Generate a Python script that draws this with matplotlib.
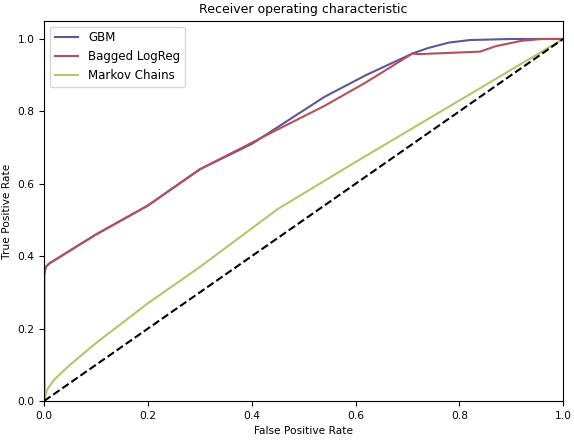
import matplotlib
matplotlib.use("Agg")
import matplotlib.pyplot as plt

# ROC curves
gbm_fpr = [0.0, 0.0, 0.003, 0.01, 0.1, 0.2, 0.3, 0.4, 0.54, 0.62, 0.71, 0.74, 0.78, 0.82, 0.9, 1.0]
gbm_tpr = [0.0, 0.35, 0.37, 0.38, 0.46, 0.54, 0.64, 0.71, 0.84, 0.90, 0.96, 0.975, 0.99, 0.997, 1.0, 1.0]

lr_fpr = [0.0, 0.0, 0.003, 0.01, 0.1, 0.2, 0.3, 0.45, 0.54, 0.62, 0.71, 0.72, 0.84, 0.87, 0.92, 0.96, 1.0]
lr_tpr = [0.0, 0.35, 0.37, 0.38, 0.46, 0.54, 0.64, 0.75, 0.815, 0.88, 0.96, 0.958, 0.965, 0.98, 0.995, 1.0, 1.0]

mc_fpr = [0.0, 0.005, 0.02, 0.05, 0.1, 0.2, 0.3, 0.45, 0.6, 0.8, 1.0]
mc_tpr = [0.0, 0.03, 0.06, 0.10, 0.16, 0.27, 0.37, 0.53, 0.66, 0.83, 1.0]

plt.rcParams['font.size'] = 7.7

fig = plt.figure(figsize=(5.74, 4.44), dpi=100)
ax = fig.add_axes([0.077, 0.097, 0.904, 0.856])

ax.plot(gbm_fpr, gbm_tpr, color='#5e5696', lw=1.5, label='GBM')
ax.plot(lr_fpr, lr_tpr, color='#b4505c', lw=1.5, label='Bagged LogReg')
ax.plot(mc_fpr, mc_tpr, color='#b8c36c', lw=1.5, label='Markov Chains')
ax.plot([0, 1], [0, 1], 'k--', lw=1.5)

ax.set_xlim(0, 1)
ax.set_ylim(0, 1.05)
ax.set_xlabel('False Positive Rate')
ax.set_ylabel('True Positive Rate')
ax.set_title('Receiver operating characteristic', fontsize=9)
ax.legend(loc='upper left', fontsize=8.5)

fig.savefig('out.png', dpi=100)
